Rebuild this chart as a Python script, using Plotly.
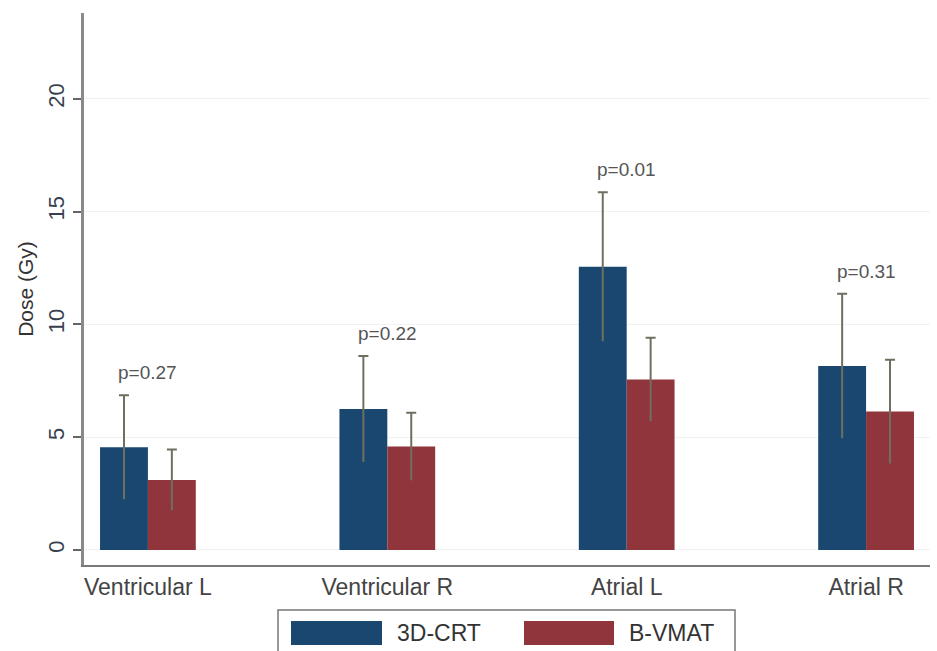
import plotly.graph_objects as go

# Mean dose per cardiac substructure, with standard deviation
categories = ["Ventricular L", "Ventricular R", "Atrial L", "Atrial R"]
crt_mean = [4.55, 6.25, 12.55, 8.15]
crt_sd = [2.3, 2.35, 3.3, 3.2]
vmat_mean = [3.1, 4.58, 7.55, 6.13]
vmat_sd = [1.35, 1.5, 1.85, 2.3]
p_values = ["p=0.27", "p=0.22", "p=0.01", "p=0.31"]
series_names = ["3D-CRT", "B-VMAT"]

NAVY = "#1a476f"
MAROON = "#90353b"
ERR = "#6f6f60"
FONT = "Liberation Sans, Arial, sans-serif"

fig = go.Figure()
for i, (name, mean, sd, color) in enumerate([
    (series_names[0], crt_mean, crt_sd, NAVY),
    (series_names[1], vmat_mean, vmat_sd, MAROON),
]):
    # bar with a plain +/- SD whisker
    fig.add_trace(go.Bar(
        x=categories, y=mean, name=name, offsetgroup=str(i),
        marker=dict(color=color, line=dict(width=0)),
        error_y=dict(type="data", array=sd, visible=True,
                     color=ERR, thickness=2, width=0),
        showlegend=False,
    ))
    # cap drawn only at the upper end of the whisker
    tops = [m + s for m, s in zip(mean, sd)]
    fig.add_trace(go.Bar(
        x=categories, y=tops, offsetgroup=str(i),
        marker=dict(color="rgba(0,0,0,0)", line=dict(width=0)),
        error_y=dict(type="data", array=[0] * len(tops), visible=True,
                     color=ERR, thickness=2, width=5),
        showlegend=False, hoverinfo="skip",
    ))

# p-value labels above the 3D-CRT error bars
for cat, m, s, p in zip(categories, crt_mean, crt_sd, p_values):
    fig.add_annotation(
        x=cat, y=m + s + 1.0, text=p, showarrow=False,
        yanchor="middle", xanchor="center",
        font=dict(family=FONT, size=19, color="#555555"),
    )

# Legend box drawn below the plot
legend_shapes = [
    dict(type="rect", xref="paper", yref="paper",
         x0=(278 - 84) / 846, x1=(735 - 84) / 846,
         y0=(565 - 660) / 552, y1=(565 - 610) / 552,
         line=dict(color="#777777", width=1.5), fillcolor="white"),
    dict(type="rect", xref="paper", yref="paper",
         x0=(291 - 84) / 846, x1=(382 - 84) / 846,
         y0=(565 - 645) / 552, y1=(565 - 621) / 552,
         line=dict(width=0), fillcolor=NAVY),
    dict(type="rect", xref="paper", yref="paper",
         x0=(524 - 84) / 846, x1=(614 - 84) / 846,
         y0=(565 - 645) / 552, y1=(565 - 621) / 552,
         line=dict(width=0), fillcolor=MAROON),
]
for sh in legend_shapes:
    fig.add_shape(**sh)
for label, xpx in [(series_names[0], 395), (series_names[1], 627)]:
    fig.add_annotation(
        xref="paper", yref="paper", x=(xpx - 84) / 846, y=(565 - 633) / 552,
        text=label, showarrow=False, xanchor="left", yanchor="middle",
        font=dict(family=FONT, size=23, color="#333333"),
    )

fig.update_layout(
    width=937, height=651,
    margin=dict(l=84, r=7, t=13, b=86),
    paper_bgcolor="white", plot_bgcolor="white",
    barmode="group", bargap=0.6, bargroupgap=0,
    font=dict(family=FONT, color="#333333"),
)
fig.update_xaxes(
    range=[-0.267, 3.267], showline=True, linecolor="#7a7a7a", linewidth=2,
    ticks="", showgrid=False,
    tickfont=dict(family=FONT, size=23, color="#444444"),
)
fig.update_yaxes(
    range=[-0.67, 23.8], tickvals=[0, 5, 10, 15, 20], tickangle=-90,
    showline=True, linecolor="#8a8a8a", linewidth=2.5,
    ticks="outside", ticklen=8, tickwidth=1.5, tickcolor="#666666",
    showgrid=True, gridcolor="#f1f1f1", gridwidth=1, zeroline=False,
    tickfont=dict(family=FONT, size=22, color="#3a3f50"),
    title=dict(text="Dose (Gy)", standoff=6,
               font=dict(family=FONT, size=21, color="#333333")),
)

fig.write_html("out.html")
